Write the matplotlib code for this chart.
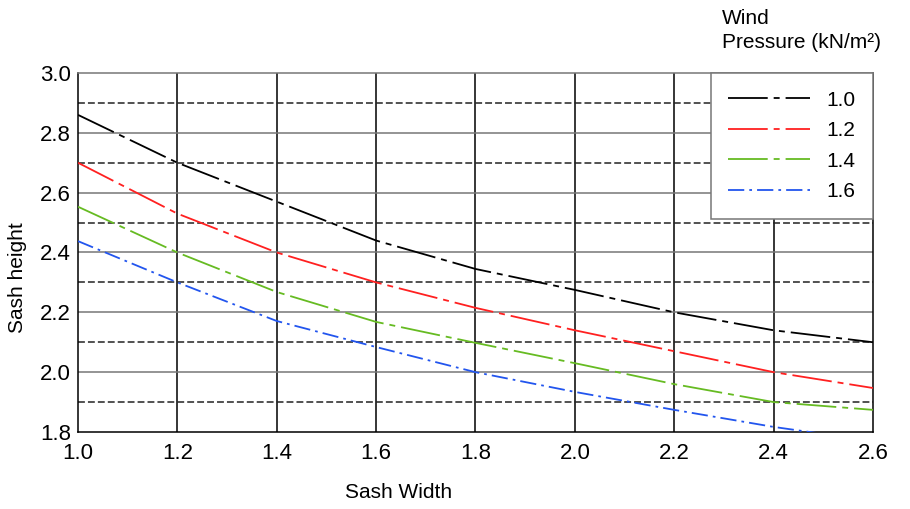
import matplotlib
matplotlib.use('Agg')
import matplotlib.pyplot as plt
import numpy as np

plt.rcParams['font.family'] = ['Liberation Sans', 'DejaVu Sans']

# sash width (x) and sash height per wind pressure
sash_width = [1.0, 1.2, 1.4, 1.6, 1.8, 2.0, 2.2, 2.4, 2.6]
h_10 = [2.86, 2.70, 2.57, 2.44, 2.345, 2.275, 2.20, 2.14, 2.10]
h_12 = [2.70, 2.53, 2.40, 2.30, 2.215, 2.14, 2.07, 2.00, 1.947]
h_14 = [2.553, 2.40, 2.268, 2.168, 2.098, 2.03, 1.96, 1.90, 1.874]
h_16 = [2.438, 2.30, 2.171, 2.084, 2.00, 1.934, 1.874, 1.817, 1.77]
pressure_labels = ['1.0', '1.2', '1.4', '1.6']

fig = plt.figure(figsize=(9.10, 5.09), dpi=100)
ax = fig.add_axes([78 / 910, 1 - 432 / 509, (873 - 78) / 910, (432 - 73) / 509])

# grid lines
for x in np.arange(1.2, 2.6, 0.2):
    ax.axvline(x, color='black', lw=1.1, zorder=1)
for y in np.arange(2.0, 3.0, 0.2):
    ax.axhline(y, color='#777777', lw=1.1, zorder=1)
for y in np.arange(1.9, 3.0, 0.2):
    ax.axhline(y, color='#222222', lw=1.1, ls=(0, (4.5, 2)), zorder=1)

long_dd = (0, (22, 3.3, 3.3, 3.3))
ax.plot(sash_width, h_10, color='black', lw=1.3, ls=long_dd, label=pressure_labels[0], zorder=3)
ax.plot(sash_width, h_12, color='#ff2020', lw=1.3, ls=long_dd, label=pressure_labels[1], zorder=3)
ax.plot(sash_width, h_14, color='#66bb22', lw=1.3, ls=long_dd, label=pressure_labels[2], zorder=3)
ax.plot(sash_width, h_16, color='#2255ee', lw=1.3, ls=(0, (9, 2.8, 1.5, 2.8)), label=pressure_labels[3], zorder=3)

ax.set_xlim(1.0, 2.6)
ax.set_ylim(1.8, 3.0)
ax.set_xticks(np.round(np.arange(1.0, 2.61, 0.2), 1))
ax.set_yticks(np.round(np.arange(1.8, 3.01, 0.2), 1))
ax.xaxis.set_major_formatter(matplotlib.ticker.FormatStrFormatter('%.1f'))
ax.yaxis.set_major_formatter(matplotlib.ticker.FormatStrFormatter('%.1f'))
ax.tick_params(length=0, labelsize=16)
ax.tick_params(axis='x', pad=8)
ax.tick_params(axis='y', pad=5)

ax.spines['top'].set_color('#777777')
for s in ['left', 'bottom', 'right']:
    ax.spines[s].set_color('black')
for s in ax.spines.values():
    s.set_linewidth(1.1)

ax.set_xlabel('Sash Width', fontsize=15)
ax.set_ylabel('Sash height', fontsize=15)
ax.xaxis.set_label_coords(0.403, -0.143)
ax.yaxis.set_label_coords(-0.064, 0.43)

leg = ax.legend(loc='upper right', fontsize=15, handlelength=3.9, handletextpad=0.8,
                borderpad=0.85, labelspacing=0.55, fancybox=False, framealpha=1,
                edgecolor='#777777', borderaxespad=0)
leg.get_frame().set_linewidth(1.1)
leg.set_zorder(5)

fig.text(722 / 910, 1 - 18 / 509, 'Wind', fontsize=15, va='center', ha='left')
fig.text(722 / 910, 1 - 43 / 509, 'Pressure (kN/m²)', fontsize=15, va='center', ha='left')

fig.savefig('out.png', dpi=100)
